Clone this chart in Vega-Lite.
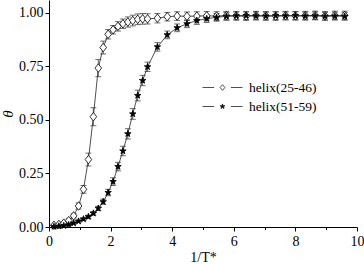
{
  "$schema": "https://vega.github.io/schema/vega-lite/v6.json",
  "width": 308,
  "height": 227,
  "autosize": "none",
  "padding": {"left": 49, "top": 0, "right": 7, "bottom": 37},
  "config": {
    "view": {"stroke": null},
    "font": "Liberation Serif",
    "legend": {"labelFont": "Liberation Serif", "labelFontSize": 13.5, "labelColor": "black"},
    "axis": {
      "grid": false,
      "domainColor": "black",
      "domainWidth": 1,
      "tickColor": "black",
      "tickWidth": 1,
      "labelFont": "Liberation Serif",
      "labelFontSize": 14,
      "labelColor": "black",
      "titleFont": "Liberation Serif",
      "titleColor": "black",
      "titleFontWeight": "normal"
    }
  },
  "data": {
    "values": [
      {"series": "helix(25-46)", "x": 0.16, "y": 0.008, "err": 0.004},
      {"series": "helix(25-46)", "x": 0.32, "y": 0.012, "err": 0.005},
      {"series": "helix(25-46)", "x": 0.48, "y": 0.018, "err": 0.006},
      {"series": "helix(25-46)", "x": 0.64, "y": 0.030, "err": 0.008},
      {"series": "helix(25-46)", "x": 0.80, "y": 0.052, "err": 0.010},
      {"series": "helix(25-46)", "x": 0.96, "y": 0.098, "err": 0.014},
      {"series": "helix(25-46)", "x": 1.12, "y": 0.176, "err": 0.018},
      {"series": "helix(25-46)", "x": 1.28, "y": 0.315, "err": 0.030},
      {"series": "helix(25-46)", "x": 1.44, "y": 0.515, "err": 0.042},
      {"series": "helix(25-46)", "x": 1.60, "y": 0.742, "err": 0.040},
      {"series": "helix(25-46)", "x": 1.76, "y": 0.838, "err": 0.030},
      {"series": "helix(25-46)", "x": 1.92, "y": 0.900, "err": 0.022},
      {"series": "helix(25-46)", "x": 2.08, "y": 0.921, "err": 0.020},
      {"series": "helix(25-46)", "x": 2.24, "y": 0.937, "err": 0.022},
      {"series": "helix(25-46)", "x": 2.40, "y": 0.949, "err": 0.022},
      {"series": "helix(25-46)", "x": 2.56, "y": 0.957, "err": 0.024},
      {"series": "helix(25-46)", "x": 2.72, "y": 0.964, "err": 0.025},
      {"series": "helix(25-46)", "x": 2.88, "y": 0.970, "err": 0.025},
      {"series": "helix(25-46)", "x": 3.04, "y": 0.972, "err": 0.025},
      {"series": "helix(25-46)", "x": 3.20, "y": 0.972, "err": 0.024},
      {"series": "helix(25-46)", "x": 3.52, "y": 0.975, "err": 0.022},
      {"series": "helix(25-46)", "x": 3.84, "y": 0.982, "err": 0.020},
      {"series": "helix(25-46)", "x": 4.16, "y": 0.985, "err": 0.020},
      {"series": "helix(25-46)", "x": 4.48, "y": 0.984, "err": 0.020},
      {"series": "helix(25-46)", "x": 4.80, "y": 0.985, "err": 0.020},
      {"series": "helix(25-46)", "x": 5.12, "y": 0.986, "err": 0.020},
      {"series": "helix(25-46)", "x": 5.44, "y": 0.985, "err": 0.020},
      {"series": "helix(25-46)", "x": 5.76, "y": 0.987, "err": 0.020},
      {"series": "helix(25-46)", "x": 6.08, "y": 0.986, "err": 0.020},
      {"series": "helix(25-46)", "x": 6.40, "y": 0.985, "err": 0.020},
      {"series": "helix(25-46)", "x": 6.72, "y": 0.987, "err": 0.020},
      {"series": "helix(25-46)", "x": 7.04, "y": 0.986, "err": 0.020},
      {"series": "helix(25-46)", "x": 7.36, "y": 0.985, "err": 0.020},
      {"series": "helix(25-46)", "x": 7.68, "y": 0.987, "err": 0.020},
      {"series": "helix(25-46)", "x": 8.00, "y": 0.986, "err": 0.020},
      {"series": "helix(25-46)", "x": 8.32, "y": 0.987, "err": 0.020},
      {"series": "helix(25-46)", "x": 8.64, "y": 0.988, "err": 0.020},
      {"series": "helix(25-46)", "x": 8.96, "y": 0.986, "err": 0.020},
      {"series": "helix(25-46)", "x": 9.28, "y": 0.988, "err": 0.020},
      {"series": "helix(25-46)", "x": 9.60, "y": 0.988, "err": 0.020},
      {"series": "helix(51-59)", "x": 0.16, "y": 0.002, "err": 0.002},
      {"series": "helix(51-59)", "x": 0.32, "y": 0.004, "err": 0.002},
      {"series": "helix(51-59)", "x": 0.48, "y": 0.006, "err": 0.003},
      {"series": "helix(51-59)", "x": 0.64, "y": 0.010, "err": 0.003},
      {"series": "helix(51-59)", "x": 0.80, "y": 0.018, "err": 0.004},
      {"series": "helix(51-59)", "x": 0.96, "y": 0.027, "err": 0.005},
      {"series": "helix(51-59)", "x": 1.12, "y": 0.037, "err": 0.006},
      {"series": "helix(51-59)", "x": 1.28, "y": 0.048, "err": 0.007},
      {"series": "helix(51-59)", "x": 1.44, "y": 0.064, "err": 0.008},
      {"series": "helix(51-59)", "x": 1.60, "y": 0.087, "err": 0.010},
      {"series": "helix(51-59)", "x": 1.76, "y": 0.118, "err": 0.012},
      {"series": "helix(51-59)", "x": 1.92, "y": 0.161, "err": 0.015},
      {"series": "helix(51-59)", "x": 2.08, "y": 0.212, "err": 0.018},
      {"series": "helix(51-59)", "x": 2.24, "y": 0.282, "err": 0.020},
      {"series": "helix(51-59)", "x": 2.40, "y": 0.355, "err": 0.022},
      {"series": "helix(51-59)", "x": 2.56, "y": 0.435, "err": 0.024},
      {"series": "helix(51-59)", "x": 2.72, "y": 0.528, "err": 0.025},
      {"series": "helix(51-59)", "x": 2.88, "y": 0.614, "err": 0.025},
      {"series": "helix(51-59)", "x": 3.04, "y": 0.684, "err": 0.024},
      {"series": "helix(51-59)", "x": 3.20, "y": 0.748, "err": 0.022},
      {"series": "helix(51-59)", "x": 3.52, "y": 0.841, "err": 0.020},
      {"series": "helix(51-59)", "x": 3.84, "y": 0.897, "err": 0.018},
      {"series": "helix(51-59)", "x": 4.16, "y": 0.930, "err": 0.018},
      {"series": "helix(51-59)", "x": 4.48, "y": 0.949, "err": 0.018},
      {"series": "helix(51-59)", "x": 4.80, "y": 0.964, "err": 0.018},
      {"series": "helix(51-59)", "x": 5.12, "y": 0.973, "err": 0.018},
      {"series": "helix(51-59)", "x": 5.44, "y": 0.979, "err": 0.018},
      {"series": "helix(51-59)", "x": 5.76, "y": 0.984, "err": 0.018},
      {"series": "helix(51-59)", "x": 6.08, "y": 0.986, "err": 0.018},
      {"series": "helix(51-59)", "x": 6.40, "y": 0.987, "err": 0.018},
      {"series": "helix(51-59)", "x": 6.72, "y": 0.986, "err": 0.018},
      {"series": "helix(51-59)", "x": 7.04, "y": 0.985, "err": 0.018},
      {"series": "helix(51-59)", "x": 7.36, "y": 0.987, "err": 0.018},
      {"series": "helix(51-59)", "x": 7.68, "y": 0.986, "err": 0.018},
      {"series": "helix(51-59)", "x": 8.00, "y": 0.987, "err": 0.018},
      {"series": "helix(51-59)", "x": 8.32, "y": 0.985, "err": 0.018},
      {"series": "helix(51-59)", "x": 8.64, "y": 0.986, "err": 0.018},
      {"series": "helix(51-59)", "x": 8.96, "y": 0.984, "err": 0.018},
      {"series": "helix(51-59)", "x": 9.28, "y": 0.985, "err": 0.018},
      {"series": "helix(51-59)", "x": 9.60, "y": 0.984, "err": 0.018}
    ]
  },
  "encoding": {
    "x": {
      "field": "x",
      "type": "quantitative",
      "scale": {"domain": [0, 10], "nice": false, "zero": false},
      "axis": {
        "title": "1/T*",
        "titleFontSize": 14,
        "titlePadding": 2,
        "values": [0, 1, 2, 3, 4, 5, 6, 7, 8, 9, 10],
        "labelExpr": "datum.value % 2 ? '' : datum.label",
        "tickSize": {"condition": {"test": "datum.value % 2", "value": 2.5}, "value": 4},
        "labelPadding": 3,
        "labelFlush": false
      }
    }
  },
  "layer": [
    {
      "mark": {"type": "line", "strokeWidth": 0.8},
      "encoding": {
        "y": {
          "field": "y",
          "type": "quantitative",
          "title": "θ",
          "scale": {"domain": [0, 1.06], "nice": false},
          "axis": {
            "title": "θ",
            "titleFontSize": 15,
            "titleFontStyle": "italic",
            "titlePadding": 3,
            "values": [0, 0.125, 0.25, 0.375, 0.5, 0.625, 0.75, 0.875, 1],
            "format": ".2f",
            "labelExpr": "(datum.value * 8) % 2 ? '' : datum.label",
            "tickSize": {"condition": {"test": "(datum.value * 8) % 2", "value": 2.5}, "value": 4},
            "labelPadding": 2,
            "labelFlush": false
          }
        },
        "stroke": {
          "field": "series",
          "type": "nominal",
          "scale": {"domain": ["helix(25-46)", "helix(51-59)"], "range": ["#222222", "#222222"]},
          "legend": {
            "title": null,
            "orient": "none",
            "legendX": 165,
            "legendY": 79,
            "padding": 0,
            "symbolSize": 256,
            "labelOffset": 18,
            "rowPadding": 4,
            "labelFont": "Liberation Serif",
            "labelFontSize": 13.5,
            "labelColor": "black",
            "symbolStrokeWidth": 0.8,
            "encode": {
              "symbols": {
                "update": {
                  "shape": {"signal": "datum.value === 'helix(25-46)' ? 'M-2.5,0H-1.05M1.05,0H2.5M0,-0.35L0.3,0L0,0.35L-0.3,0Z' : 'M-2.5,0H-1.05M1.05,0H2.5M0,-0.32L0.075,-0.104L0.304,-0.099L0.122,0.04L0.188,0.259L0,0.128L-0.188,0.259L-0.122,0.04L-0.304,-0.099L-0.075,-0.104Z'"},
                  "fill": {"signal": "datum.value === 'helix(25-46)' ? 'white' : 'black'"},
                  "strokeWidth": {"value": 0.8},
                  "size": {"value": 256},
                  "opacity": {"value": 1}
                }
              }
            }
          }
        }
      }
    },
    {
      "mark": {
        "type": "errorbar",
        "ticks": {"size": 6, "color": "#333", "strokeWidth": 0.8},
        "rule": {"color": "#333", "strokeWidth": 0.8}
      },
      "encoding": {
        "y": {"field": "y", "type": "quantitative", "title": "θ"},
        "yError": {"field": "err"},
        "detail": {"field": "series"}
      }
    },
    {
      "transform": [{"filter": "datum.series === 'helix(25-46)'"}],
      "mark": {
        "type": "point",
        "filled": true,
        "fill": "white",
        "stroke": "black",
        "strokeWidth": 0.8,
        "opacity": 1,
        "size": 72,
        "shape": "M0,-1L0.78,0L0,1L-0.78,0Z"
      },
      "encoding": {
        "y": {"field": "y", "type": "quantitative", "title": "θ"}
      }
    },
    {
      "transform": [{"filter": "datum.series === 'helix(51-59)'"}],
      "mark": {
        "type": "point",
        "filled": true,
        "fill": "black",
        "stroke": "black",
        "strokeWidth": 0.8,
        "opacity": 1,
        "size": 72,
        "shape": "M0,-0.8L0.188,-0.259L0.761,-0.247L0.304,0.099L0.47,0.647L0,0.32L-0.47,0.647L-0.304,0.099L-0.761,-0.247L-0.188,-0.259Z"
      },
      "encoding": {
        "y": {"field": "y", "type": "quantitative", "title": "θ"}
      }
    }
  ]
}
